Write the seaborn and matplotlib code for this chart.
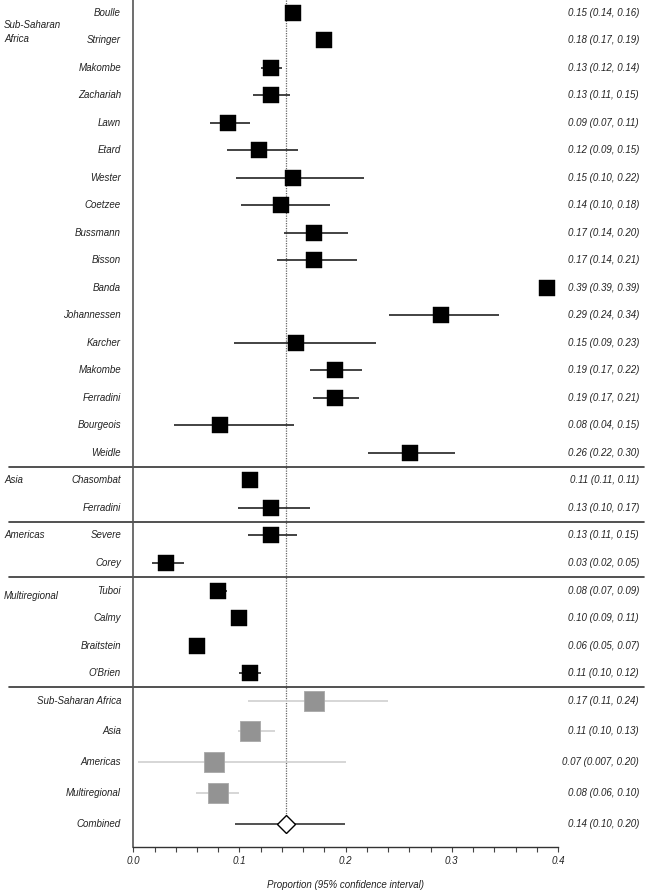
import numpy as np
import pandas as pd
import matplotlib
matplotlib.use('Agg')
import matplotlib.pyplot as plt
import matplotlib.transforms as mtransforms
import seaborn as sns

# individual studies
study_names = ['Boulle', 'Stringer', 'Makombe', 'Zachariah', 'Lawn', 'Etard', 'Wester',
               'Coetzee', 'Bussmann', 'Bisson', 'Banda', 'Johannessen', 'Karcher',
               'Makombe', 'Ferradini', 'Bourgeois', 'Weidle',
               'Chasombat', 'Ferradini',
               'Severe', 'Corey',
               'Tuboi', 'Calmy', 'Braitstein', "O'Brien"]
study_region = ['Sub-Saharan Africa'] * 17 + ['Asia'] * 2 + ['Americas'] * 2 + ['Multiregional'] * 4
study_est = [0.150, 0.180, 0.130, 0.130, 0.0895, 0.1186, 0.150, 0.139, 0.1705, 0.1705,
             0.390, 0.290, 0.153, 0.1895, 0.190, 0.082, 0.2605,
             0.110, 0.1295, 0.1295, 0.0306,
             0.080, 0.0996, 0.060, 0.110]
study_lo = [0.146, 0.176, 0.1205, 0.113, 0.072, 0.088, 0.097, 0.101, 0.1415, 0.135,
            0.390, 0.241, 0.095, 0.166, 0.169, 0.038, 0.221,
            0.110, 0.099, 0.108, 0.018,
            0.0725, 0.096, 0.057, 0.100]
study_hi = [0.154, 0.184, 0.140, 0.148, 0.110, 0.155, 0.217, 0.185, 0.202, 0.211,
            0.390, 0.344, 0.229, 0.2155, 0.213, 0.1516, 0.303,
            0.110, 0.166, 0.154, 0.048,
            0.088, 0.104, 0.064, 0.1205]
study_text = ['0.15 (0.14, 0.16)', '0.18 (0.17, 0.19)', '0.13 (0.12, 0.14)', '0.13 (0.11, 0.15)',
              '0.09 (0.07, 0.11)', '0.12 (0.09, 0.15)', '0.15 (0.10, 0.22)', '0.14 (0.10, 0.18)',
              '0.17 (0.14, 0.20)', '0.17 (0.14, 0.21)', '0.39 (0.39, 0.39)', '0.29 (0.24, 0.34)',
              '0.15 (0.09, 0.23)', '0.19 (0.17, 0.22)', '0.19 (0.17, 0.21)', '0.08 (0.04, 0.15)',
              '0.26 (0.22, 0.30)', '0.11 (0.11, 0.11)', '0.13 (0.10, 0.17)', '0.13 (0.11, 0.15)',
              '0.03 (0.02, 0.05)', '0.08 (0.07, 0.09)', '0.10 (0.09, 0.11)', '0.06 (0.05, 0.07)',
              '0.11 (0.10, 0.12)']

# pooled estimates by region
pooled_names = ['Sub-Saharan Africa', 'Asia', 'Americas', 'Multiregional']
pooled_est = [0.170, 0.110, 0.076, 0.080]
pooled_lo = [0.108, 0.0986, 0.0047, 0.059]
pooled_hi = [0.240, 0.133, 0.200, 0.0998]
pooled_text = ['0.17 (0.11, 0.24)', '0.11 (0.10, 0.13)', '0.07 (0.007, 0.20)', '0.08 (0.06, 0.10)']

combined_name = 'Combined'
combined_est = 0.1438
combined_lo = 0.0958
combined_hi = 0.1994
combined_text = '0.14 (0.10, 0.20)'

group_labels = ['Sub-Saharan\nAfrica', 'Asia', 'Americas', 'Multiregional']

# layout
n_study = len(study_names)
study_y = np.arange(n_study)
pooled_step = 1.12
pooled_y = n_study + pooled_step * np.arange(len(pooled_names))
combined_y = n_study + pooled_step * len(pooled_names)

df = pd.DataFrame({'name': study_names, 'region': study_region, 'est': study_est,
                   'lo': study_lo, 'hi': study_hi, 'y': study_y})
dfp = pd.DataFrame({'name': pooled_names, 'est': pooled_est, 'lo': pooled_lo,
                    'hi': pooled_hi, 'y': pooled_y})

sns.set_theme(style='white')
plt.rcParams['font.family'] = ['Liberation Sans', 'DejaVu Sans']
plt.rcParams['font.style'] = 'italic'

fig = plt.figure(figsize=(6.48, 8.92), dpi=100)
ax = fig.add_axes([133.3 / 648, 45.3 / 892, (558 - 133.3) / 648, 1 - 45.3 / 892])

ytop = -0.46
ybot = 30.31

# confidence intervals
ax.hlines(df['y'], df['lo'], df['hi'], color='#222222', lw=1.2, zorder=2)
ax.hlines(dfp['y'], dfp['lo'], dfp['hi'], color='#d0d0d0', lw=1.2, zorder=2)
ax.hlines(combined_y, combined_lo, combined_hi, color='#333333', lw=1.2, zorder=2)

# reference line at combined estimate
ax.vlines(combined_est, ytop, combined_y, color='#666666', lw=0.9, ls=(0, (1, 1)), zorder=1)

sns.scatterplot(data=df, x='est', y='y', marker='s', s=11.3 ** 2, color='black',
                edgecolor='black', linewidth=0.3, ax=ax, zorder=3, legend=False)
sns.scatterplot(data=dfp, x='est', y='y', marker='s', s=14.8 ** 2, color='#939393',
                edgecolor='#a8a8a8', linewidth=0.6, ax=ax, zorder=3, legend=False)
ax.plot([combined_est], [combined_y], marker='D', ms=9.2, mfc='white', mec='black',
        mew=1.0, zorder=4)

ax.set_xlim(0, 0.4)
ax.set_ylim(ybot, ytop)
ax.set_yticks([])
ax.set_xticks(np.arange(0, 0.41, 0.1))
ax.set_xticks(np.arange(0, 0.41, 0.02), minor=True)
ax.set_xticklabels(['0.0', '0.1', '0.2', '0.3', '0.4'], fontsize=7, style='italic',
                   color='#222222')
ax.tick_params(axis='x', which='both', direction='out', length=3.6, width=0.8,
               color='#444444', bottom=True, pad=3)
ax.set_xlabel('Proportion (95% confidence interval)', fontsize=7, style='italic',
              color='#222222', labelpad=10)
ax.set_ylabel('')
for side in ['top', 'right']:
    ax.spines[side].set_visible(False)
ax.spines['left'].set_color('#555555')
ax.spines['left'].set_linewidth(1.2)
ax.spines['bottom'].set_color('#333333')
ax.spines['bottom'].set_linewidth(1.0)

trans = mtransforms.blended_transform_factory(fig.transFigure, ax.transData)
name_x = 121 / 648
val_x = 639 / 648

for nm, yy, tx in zip(study_names, study_y, study_text):
    ax.text(name_x, yy, nm, transform=trans, ha='right', va='center', fontsize=7,
            style='italic', color='#222222')
    ax.text(val_x, yy, tx, transform=trans, ha='right', va='center', fontsize=7,
            style='italic', color='#222222')
for nm, yy, tx in zip(pooled_names, pooled_y, pooled_text):
    ax.text(name_x, yy, nm, transform=trans, ha='right', va='center', fontsize=7,
            style='italic', color='#222222')
    ax.text(val_x, yy, tx, transform=trans, ha='right', va='center', fontsize=7,
            style='italic', color='#222222')
ax.text(name_x, combined_y, combined_name, transform=trans, ha='right', va='center',
        fontsize=7, style='italic', color='#222222')
ax.text(val_x, combined_y, combined_text, transform=trans, ha='right', va='center',
        fontsize=7, style='italic', color='#222222')

# region labels at the start of each group
regions = ['Sub-Saharan Africa', 'Asia', 'Americas', 'Multiregional']
starts = [study_region.index(r) for r in regions]
offsets = [0.7, 0.0, 0.0, 0.2]
for lab, st, off in zip(group_labels, starts, offsets):
    ax.text(4 / 648, st + off, lab, transform=trans, ha='left', va='center', fontsize=7,
            style='italic', color='#222222', linespacing=1.6)

# separators between groups, across the whole width
for st in starts[1:] + [n_study]:
    ax.plot([9 / 648, 644 / 648], [st - 0.5, st - 0.5], transform=trans, color='#333333',
            lw=1.2, clip_on=False, zorder=2)

fig.savefig('out.png', dpi=100)
